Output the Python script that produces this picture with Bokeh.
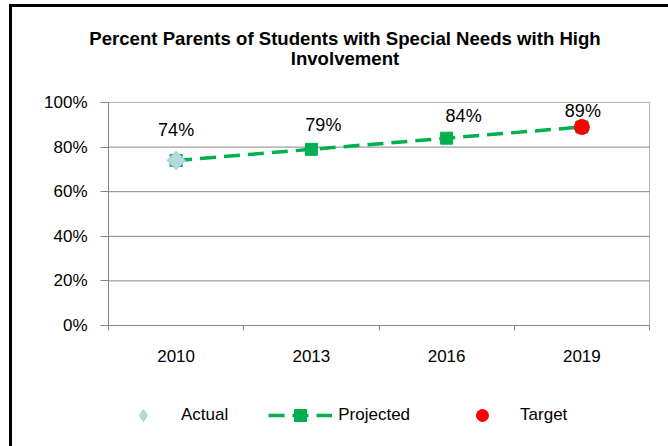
from bokeh.plotting import figure
from bokeh.models import (ColumnDataSource, Range1d, FixedTicker, NumeralTickFormatter,
                          LabelSet, Label, Legend, LegendItem, BoxAnnotation, InlineStyleSheet)
from bokeh.core.properties import value
from bokeh.embed import file_html
from bokeh.resources import INLINE

# ---- data ----
years = ["2010", "2013", "2016", "2019"]
actual = [0.74, None, None, None]
projected = [0.74, 0.79, 0.84, 0.89]
target = [None, None, None, 0.89]
point_labels = ["74%", "79%", "84%", "89%"]
y_ticks = [0.0, 0.2, 0.4, 0.6, 0.8, 1.0]
title_lines = ["Percent Parents of Students with Special Needs with High", "Involvement"]

# label offsets (style, px)
label_dx = [0, 12, 17, 1]
label_dy = [30, 24, 22, 16]

FONT = "Liberation Sans"
GRAY = "#868686"
GREEN = "#00b050"
ACT_FILL, ACT_LINE = "#b4dadd", "#a6d0d4"

# ---- layout (pixels) ----
W, H = 668, 446
PA_LEFT, PA_RIGHT, PA_TOP, PA_BOTTOM = 108, 649, 102, 325   # plot area

xs = list(range(1, len(years) + 1))
x_lo, x_hi = 0.5, len(years) + 0.5
y_lo, y_hi = y_ticks[0], y_ticks[-1]
kx = (PA_RIGHT - PA_LEFT) / (x_hi - x_lo)
ky = (PA_BOTTOM - PA_TOP) / (y_hi - y_lo)

src_proj = ColumnDataSource(dict(x=xs, y=projected))
src_act = ColumnDataSource(dict(x=[x for x, v in zip(xs, actual) if v is not None],
                                y=[v for v in actual if v is not None]))
src_tgt = ColumnDataSource(dict(x=[x for x, v in zip(xs, target) if v is not None],
                                y=[v for v in target if v is not None]))
src_lab = ColumnDataSource(dict(x=xs, y=projected, text=point_labels, dx=label_dx, dy=label_dy))
grid_vals = y_ticks[1:-1]
src_grid = ColumnDataSource(dict(x0=[x_lo] * len(grid_vals), x1=[x_hi] * len(grid_vals),
                                 y=grid_vals))

p = figure(width=W, height=H, output_backend="svg", toolbar_location=None,
           x_range=Range1d(x_lo - PA_LEFT / kx, x_hi + (W - PA_RIGHT) / kx),
           y_range=Range1d(y_lo - (H - PA_BOTTOM) / ky, y_hi + PA_TOP / ky),
           min_border=0, min_border_left=0, min_border_right=0,
           min_border_top=0, min_border_bottom=0)
p.title = None
p.background_fill_color = "white"
p.border_fill_color = "white"
p.outline_line_color = None
p.xgrid.visible = False
p.ygrid.visible = False

# gridlines and plot-area box
p.segment(x0="x0", x1="x1", y0="y", y1="y", source=src_grid, line_color=GRAY, line_width=1)
p.add_layout(BoxAnnotation(left=x_lo, right=x_hi, bottom=y_lo, top=y_hi,
                           fill_alpha=0, line_color="black", line_width=1, level="underlay"))

# axes placed inside the frame
p.xaxis.fixed_location = y_lo
p.xaxis.bounds = (x_lo, x_hi)
p.xaxis.ticker = FixedTicker(ticks=xs, minor_ticks=[x - 0.5 for x in xs] + [xs[-1] + 0.5])
p.xaxis.major_label_overrides = {x: y for x, y in zip(xs, years)}
p.xaxis.major_tick_out = 0
p.xaxis.major_tick_in = 0
p.xaxis.minor_tick_out = 5
p.xaxis.minor_tick_in = 0
p.xaxis.minor_tick_line_color = GRAY
p.xaxis.axis_line_color = GRAY
p.xaxis.major_label_standoff = 19
p.xaxis.major_label_text_font = FONT
p.xaxis.major_label_text_font_size = "17px"
p.xaxis.major_label_text_color = "black"

p.yaxis.fixed_location = x_lo
p.yaxis.bounds = (y_lo, y_hi)
p.yaxis.ticker = FixedTicker(ticks=y_ticks, minor_ticks=[])
p.yaxis.formatter = NumeralTickFormatter(format="0%")
p.yaxis.major_tick_out = 8
p.yaxis.major_tick_in = 0
p.yaxis.major_tick_line_color = GRAY
p.yaxis.minor_tick_line_color = None
p.yaxis.axis_line_color = GRAY
p.yaxis.major_label_standoff = 13
p.yaxis.major_label_text_font = FONT
p.yaxis.major_label_text_font_size = "17px"
p.yaxis.major_label_text_color = "black"

# series
r_line = p.line("x", "y", source=src_proj, line_color=GREEN, line_width=3.5, line_dash="16 8")
r_sq = p.scatter("x", "y", source=src_proj, marker="square", size=12,
                 fill_color=GREEN, line_color=GREEN)
# diamond used as the legend swatch for "Actual" (fully covered by the marker drawn next)
r_act_key = p.scatter("x", "y", source=src_act, marker="diamond", size=16,
                      fill_color=ACT_FILL, line_color=ACT_LINE)
r_act = p.scatter("x", "y", source=src_act, marker="square", angle=0.785398, size=13,
                  fill_color=ACT_FILL, line_color=ACT_LINE)
r_tgt = p.scatter("x", "y", source=src_tgt, marker="circle", size=15,
                  fill_color="#ff0000", line_color="#ff0000")

labels = LabelSet(x="x", y="y", text="text", source=src_lab, x_offset="dx", y_offset="dy",
                  text_align="center", text_baseline="middle", text_font=value(FONT),
                  text_font_size="18px", text_color="black")
p.add_layout(labels)

# title (screen units from the frame's bottom-left)
for i, t in enumerate(title_lines):
    p.add_layout(Label(x=344.5, y=H - 38 - 19.5 * i, x_units="screen", y_units="screen",
                       text=t, text_align="center", text_baseline="middle", text_font=FONT,
                       text_font_size="18.6px", text_font_style="bold", text_color="black"))

# legend
legend = Legend(items=[LegendItem(label="Actual", renderers=[r_act_key]),
                       LegendItem(label="Projected", renderers=[r_line, r_sq]),
                       LegendItem(label="Target", renderers=[r_tgt])],
                location=(111, 16), orientation="horizontal",
                glyph_width=64, glyph_height=30, label_height=30, label_standoff=6,
                spacing=40, padding=0, margin=0, border_line_color=None,
                background_fill_alpha=0, label_text_font=FONT, label_text_font_size="17px",
                label_text_color="black")
p.add_layout(legend, "center")

# outer chart border (left and top edges; the rest is cropped in the reference)
p.stylesheets = [InlineStyleSheet(css=":host::after { content: ''; position: absolute; "
                                  "left: 9px; top: 4px; right: 0; bottom: 0; "
                                  "border-left: 3px solid black; border-top: 3px solid black; "
                                  "pointer-events: none; }")]

open("out.html", "w").write(file_html(p, INLINE))
